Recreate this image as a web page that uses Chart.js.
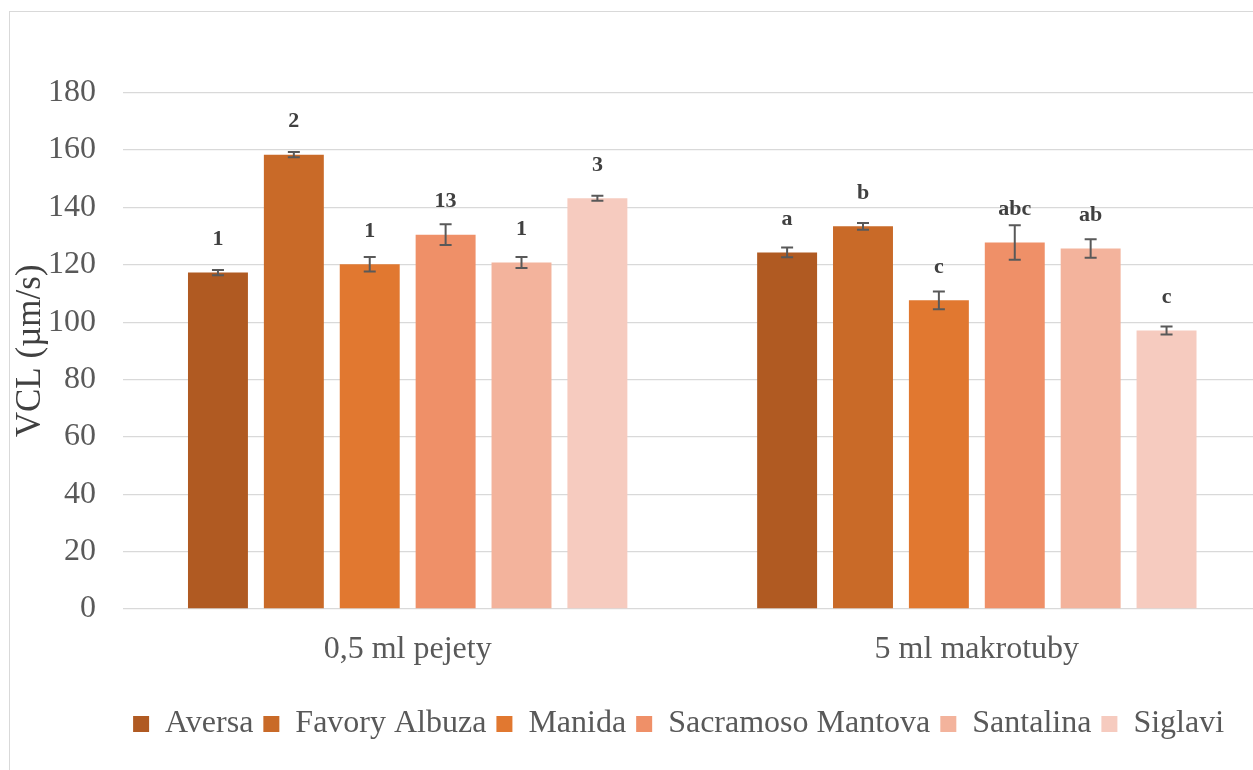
<!DOCTYPE html>
<html>
<head>
<meta charset="utf-8">
<script src="https://cdn.jsdelivr.net/npm/chart.js@4/dist/chart.umd.min.js"></script>
<style>
  html, body { margin: 0; padding: 0; background: #ffffff; overflow: hidden; width: 1253px; height: 770px; }
  #frame { position: absolute; left: 9px; top: 11px; width: 1300px; height: 800px; border: 1.5px solid #d9d9d9; box-sizing: border-box; }
  #wrap { position: absolute; left: 0; top: 0; width: 1270px; height: 770px; }
</style>
</head>
<body>
<div id="frame"></div>
<div id="wrap"><canvas id="c"></canvas></div>
<script>
// ---- data ----
const categories = ['0,5 ml pejety', '5 ml makrotuby'];
const seriesNames = ['Aversa', 'Favory Albuza', 'Manida', 'Sacramoso Mantova', 'Santalina', 'Siglavi'];
const aversa     = [117.3, 124.3];
const favory     = [158.4, 133.4];
const manida     = [120.2, 107.6];
const sacramoso  = [130.5, 127.8];
const santalina  = [120.8, 125.7];
const siglavi    = [143.2, 97.1];
const aversaErr    = [0.9, 1.7];
const favoryErr    = [0.9, 1.2];
const manidaErr    = [2.5, 3.1];
const sacramosoErr = [3.6, 6.0];
const santalinaErr = [1.9, 3.2];
const siglaviErr   = [0.9, 1.4];
const aversaLbl    = ['1', 'a'];
const favoryLbl    = ['2', 'b'];
const manidaLbl    = ['1', 'c'];
const sacramosoLbl = ['13', 'abc'];
const santalinaLbl = ['1', 'ab'];
const siglaviLbl   = ['3', 'c'];
const yTicks = [0, 20, 40, 60, 80, 100, 120, 140, 160, 180];

const colors = ['#B05A22', '#C96A28', '#E17830', '#EF9068', '#F3B39C', '#F6CBBF'];
const values = [aversa, favory, manida, sacramoso, santalina, siglavi];
const errs = [aversaErr, favoryErr, manidaErr, sacramosoErr, santalinaErr, siglaviErr];
const lbls = [aversaLbl, favoryLbl, manidaLbl, sacramosoLbl, santalinaLbl, siglaviLbl];

const serif = "'Liberation Serif', 'Times New Roman', serif";

const errorBarsAndLabels = {
  id: 'errorBarsAndLabels',
  afterDatasetsDraw(chart) {
    const ctx = chart.ctx;
    const yScale = chart.scales.y;
    chart.data.datasets.forEach((ds, di) => {
      const meta = chart.getDatasetMeta(di);
      meta.data.forEach((bar, i) => {
        const v = ds.data[i];
        const e = ds.errors[i];
        const x = bar.x;
        const yHi = yScale.getPixelForValue(v + e);
        const yLo = yScale.getPixelForValue(v - e);
        ctx.save();
        ctx.strokeStyle = '#595959';
        ctx.lineWidth = 2;
        ctx.beginPath();
        ctx.moveTo(x, yHi); ctx.lineTo(x, yLo);
        ctx.moveTo(x - 6, yHi); ctx.lineTo(x + 6, yHi);
        ctx.moveTo(x - 6, yLo); ctx.lineTo(x + 6, yLo);
        ctx.stroke();
        ctx.fillStyle = '#404040';
        ctx.font = "bold 22px " + serif;
        ctx.textAlign = 'center';
        ctx.textBaseline = 'middle';
        ctx.fillText(ds.sigLabels[i], x, bar.y - 33);
        ctx.restore();
      });
    });
  }
};

new Chart(document.getElementById('c'), {
  type: 'bar',
  data: {
    labels: categories,
    datasets: seriesNames.map((n, k) => ({
      label: n,
      data: values[k],
      errors: errs[k],
      sigLabels: lbls[k],
      backgroundColor: colors[k],
      borderWidth: 0,
      categoryPercentage: 0.8,
      barPercentage: 0.79
    }))
  },
  options: {
    responsive: true,
    maintainAspectRatio: false,
    animation: false,
    layout: { padding: { top: 92.7, right: 8.6, bottom: 20, left: 0 } },
    plugins: {
      legend: {
        position: 'bottom',
        fullSize: false,
        align: 'start',
        labels: {
          color: '#595959',
          font: { family: serif, size: 32 },
          boxWidth: 16,
          boxHeight: 16,
          padding: 10
        }
      },
      tooltip: { enabled: false }
    },
    scales: {
      x: {
        grid: { display: false, drawTicks: false },
        border: { display: false },
        ticks: { color: '#595959', font: { family: serif, size: 32 }, padding: 21.6 },
        afterFit(scale) { scale.height = 89; }
      },
      y: {
        min: 0, max: 180,
        afterBuildTicks(scale) { scale.ticks = yTicks.map(v => ({ value: v })); },
        grid: { color: '#d9d9d9', lineWidth: 1.3, drawTicks: false },
        border: { display: false },
        ticks: { color: '#595959', font: { family: serif, size: 32 }, padding: 27 },
        title: {
          display: true,
          text: 'VCL (µm/s)',
          color: '#404040',
          font: { family: serif, size: 35 },
          padding: { top: 10, bottom: 0 }
        },
        afterFit(scale) { scale.width = 123.1; }
      }
    }
  },
  plugins: [errorBarsAndLabels]
});
</script>
</body>
</html>
